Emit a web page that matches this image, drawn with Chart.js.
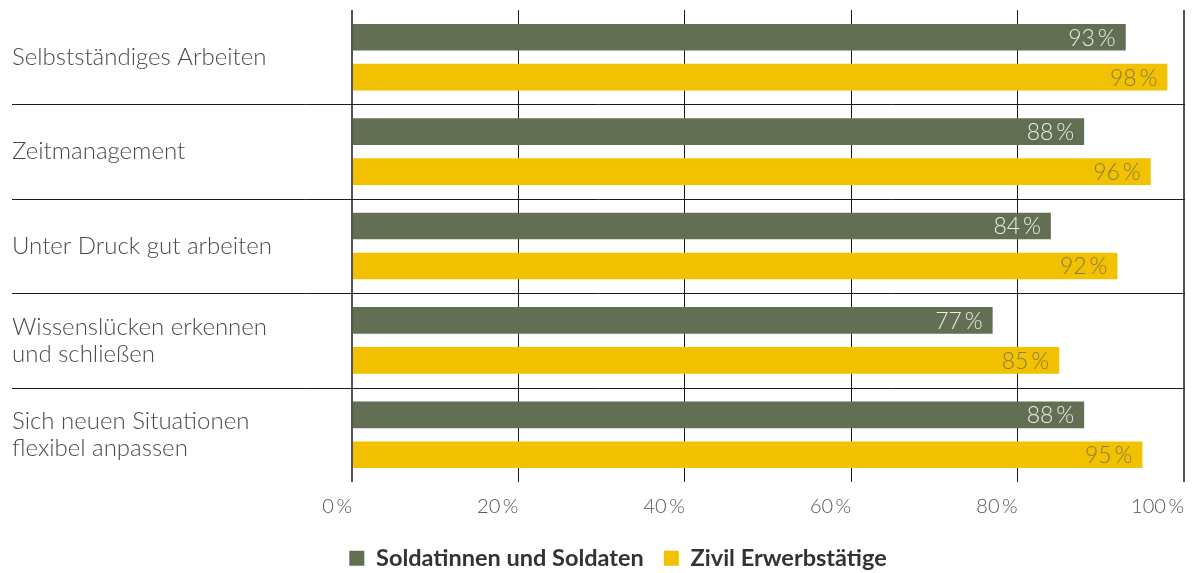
<!DOCTYPE html>
<html lang="de">
<head>
<meta charset="utf-8">
<title>Kompetenzen</title>
<script src="https://cdn.jsdelivr.net/npm/chart.js@4"></script>
<style>
  html, body { margin: 0; padding: 0; background: #fff; }
  #wrap { width: 1200px; height: 573px; position: relative; }
</style>
</head>
<body>
<div id="wrap"><canvas id="chart"></canvas></div>
<script>
// Daten
const categories = [
  'Selbstständiges Arbeiten',
  'Zeitmanagement',
  'Unter Druck gut arbeiten',
  ['Wissenslücken erkennen', 'und schließen'],
  ['Sich neuen Situationen', 'flexibel anpassen']
];
const seriesNames = ['Soldatinnen und Soldaten', 'Zivil Erwerbstätige'];
const soldaten = [93, 88, 84, 77, 88];
const zivil = [98, 96, 92, 85, 95];
const xTicks = [0, 20, 40, 60, 80, 100];

const GREEN = '#636f52';
const YELLOW = '#f2c200';
const FONT = 'Lato, "Open Sans", sans-serif';

// Trennlinien zwischen den Kategorien (reichen bis unter die Beschriftung)
const separators = {
  id: 'separators',
  beforeDatasetsDraw(chart) {
    const y = chart.scales.y;
    const { ctx, chartArea } = chart;
    ctx.save();
    ctx.strokeStyle = '#1a1a1a';
    ctx.lineWidth = 1;
    for (let i = 1; i < categories.length; i++) {
      const pos = Math.round((y.getPixelForValue(i - 1) + y.getPixelForValue(i)) / 2) + 0.5;
      ctx.beginPath();
      ctx.moveTo(y.left, pos);
      ctx.lineTo(chartArea.right + 1, pos);
      ctx.stroke();
    }
    ctx.restore();
  }
};

// Prozentwerte rechtsbündig in den Balken
const valueLabels = {
  id: 'valueLabels',
  afterDatasetsDraw(chart) {
    const { ctx } = chart;
    const colors = ['#ebebeb', '#857b45'];
    ctx.save();
    ctx.font = '300 23px ' + FONT;
    ctx.textAlign = 'right';
    ctx.textBaseline = 'middle';
    chart.data.datasets.forEach((ds, di) => {
      const meta = chart.getDatasetMeta(di);
      ctx.fillStyle = colors[di];
      meta.data.forEach((bar, i) => {
        ctx.fillText(ds.data[i] + '\u2009%', bar.x - 10, bar.y + 1);
      });
    });
    ctx.restore();
  }
};

// Legende etwas nach rechts und unten versetzt, wie im Original
const legendShift = {
  id: 'legendShift',
  afterLayout(chart) {
    chart.legend.left += 20;
    chart.legend.right += 20;
    chart.legend.top += 7;
    chart.legend.bottom += 7;
  }
};

new Chart(document.getElementById('chart'), {
  type: 'bar',
  data: {
    labels: categories,
    datasets: [
      { label: seriesNames[0], data: soldaten, backgroundColor: GREEN, borderWidth: 0 },
      { label: seriesNames[1], data: zivil, backgroundColor: YELLOW, borderWidth: 0 }
    ]
  },
  options: {
    indexAxis: 'y',
    responsive: true,
    maintainAspectRatio: false,
    animation: false,
    categoryPercentage: 0.846,
    barPercentage: 0.667,
    layout: { padding: { left: 12, right: 16, top: 10, bottom: 0 } },
    plugins: {
      legend: {
        position: 'bottom',
        labels: {
          boxWidth: 15,
          boxHeight: 15,
          padding: 20,
          color: '#333',
          font: { family: FONT, size: 23.5, weight: 'bold' }
        }
      },
      tooltip: { enabled: false }
    },
    scales: {
      x: {
        min: 0,
        max: 100,
        afterBuildTicks: scale => { scale.ticks = xTicks.map(v => ({ value: v })); },
        afterFit: scale => { scale.height = 37.5; },
        border: { display: false },
        grid: {
          drawTicks: false,
          color: ctx => (ctx.index === 0 || ctx.index === xTicks.length - 1) ? '#555' : '#1a1a1a',
          lineWidth: ctx => (ctx.index === 0 || ctx.index === xTicks.length - 1) ? 2 : 1
        },
        ticks: {
          align: 'end',
          padding: 13,
          color: '#555',
          font: { family: FONT, size: 20, weight: 300 },
          callback: v => v + '\u2009%'
        }
      },
      y: {
        afterFit: scale => {
          scale.width = 340;
          scale.paddingTop = 0;
          scale.paddingBottom = 0;
        },
        border: { display: false },
        grid: { display: false, drawTicks: false },
        ticks: {
          crossAlign: 'far',
          color: '#4a4a4a',
          font: { family: FONT, size: 24, weight: 300, lineHeight: 1.13 }
        }
      }
    }
  },
  plugins: [separators, valueLabels, legendShift]
});
</script>
</body>
</html>
